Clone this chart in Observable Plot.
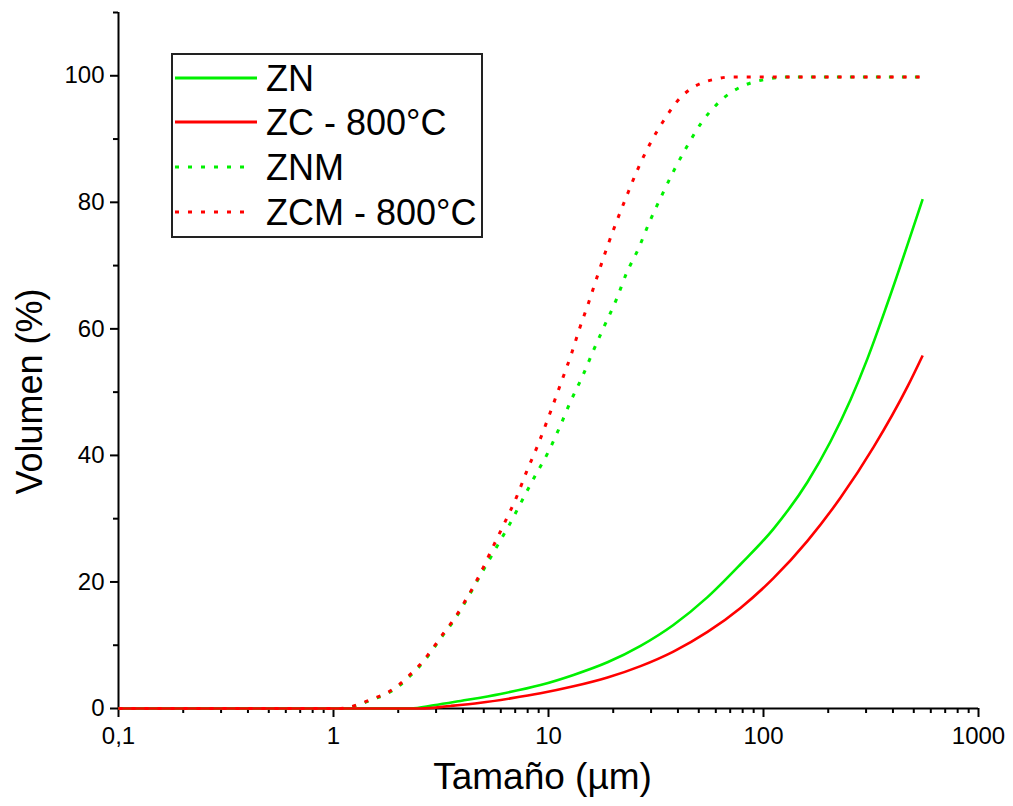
<!DOCTYPE html>
<html>
<head>
<meta charset="utf-8">
<script src="https://cdn.jsdelivr.net/npm/d3@7"></script>
<script src="https://cdn.jsdelivr.net/npm/@observablehq/plot@0.6"></script>
<style>
  html, body { margin: 0; padding: 0; background: #fff; }
  #wrap { position: relative; width: 1013px; height: 806px; }
  #legend { position: absolute; left: 0; top: 0; }
</style>
</head>
<body>
<div id="wrap"></div>
<script>
// ---- data ----
const seriesNames = ["ZN", "ZC - 800°C", "ZNM", "ZCM - 800°C"];
const seriesColors = ["#00f000", "#ff0000", "#00f000", "#ff0000"];
const seriesDotted = [false, false, true, true];

const sizeZN = [0.1, 2.28, 2.92, 3.9, 5.98, 9.18, 13.07, 18.81, 26.8, 38.1, 54.9, 78.2, 111.3, 160.2, 205, 254, 304.5, 377, 550];
const volZN  = [0,   0,    0.5,  1.2, 2.3,  3.7,  5.3,   7.3,   9.9,  13.2, 17.6, 22.8, 28.4,  35.8,  42.2, 48.8, 55.3, 64.0, 80.5];

const sizeZC = [0.1, 2.54, 3.5, 4.83, 6.66, 9.18, 13.07, 18.81, 26.8, 38.1, 54.9, 78.2, 111.3, 160.2, 228, 325, 468, 550];
const volZC  = [0,   0,    0.4, 0.9,  1.6,  2.4,  3.5,   4.9,   6.7,  9.0,  12.1, 15.9, 20.6,  26.5,  33.3, 41.3, 50.9, 55.8];

const sizeZNM = [0.1, 1.08, 1.34, 1.54, 1.76, 1.99, 2.23, 2.49, 2.74, 2.98, 3.25, 3.58, 3.86, 4.16, 4.48, 4.83, 5.26, 5.73, 6.59, 7.49, 8.61, 10.0, 11.25, 12.66, 14.39, 16.19, 18.22, 20.72, 23.06, 26.22, 29.5, 33.54, 38.14, 43.85, 51.5, 62.4, 79.0, 89.8, 105.5, 123.9, 550];
const volZNM  = [0,   0,    0.7,  1.5,  2.3,  3.4,  4.9,  6.5,  8.2,  9.9,  11.7, 13.6, 15.3, 17.2, 19.1, 21.1, 23.3, 25.5, 29.1, 32.7, 36.6, 40.6, 44.4,  48.5,  52.5,  56.6,  60.5,  64.7,  68.8,  72.7,  76.9, 81.0,  84.9,  88.7,  92.6, 95.9, 98.3, 99.0, 99.5,  99.8,  99.8];

const sizeZCM = [0.1, 1.08, 1.34, 1.54, 1.76, 1.99, 2.23, 2.49, 2.74, 2.98, 3.25, 3.58, 3.86, 4.16, 4.48, 4.83, 5.49, 6.24, 7.10, 7.90, 8.89, 9.89, 11.5, 12.8, 13.9, 15.35, 16.9, 18.6, 20.7, 23.1, 25.9, 29.5, 34.3, 40.7, 45.3, 52.0, 60.4, 69.5, 550];
const volZCM  = [0,   0,    0.8,  1.6,  2.4,  3.6,  5.1,  6.7,  8.4,  10.1, 11.9, 13.8, 15.5, 17.4, 19.3, 21.4, 25.4, 29.3, 33.4, 37.4, 41.5, 45.6, 51.7, 56.1, 59.9, 64.1,  68.4, 72.6, 76.9, 81.0, 85.1, 89.1, 92.9, 96.4, 97.8, 98.9, 99.5, 99.8, 99.8];

const xTicks = [0.1, 1, 10, 100, 1000];
const xTickLabels = ["0,1", "1", "10", "100", "1000"];
const xMinorTicks = [0.2,0.3,0.4,0.5,0.6,0.7,0.8,0.9, 2,3,4,5,6,7,8,9, 20,30,40,50,60,70,80,90, 200,300,400,500,600,700,800,900];
const yTicks = [0, 20, 40, 60, 80, 100];
const yMinorTicks = [10, 30, 50, 70, 90, 110];
const xTitle = "Tamaño (µm)";
const yTitle = "Volumen (%)";

// ---- build table ----
const sizes = [sizeZN, sizeZC, sizeZNM, sizeZCM];
const vols = [volZN, volZC, volZNM, volZCM];
const drawOrder = [0, 2, 1, 3];
const FONT = "'Liberation Sans', Arial, sans-serif";

const lineMarks = drawOrder.map(k => {
  const rows = sizes[k].map((s, i) => ({size: s, vol: vols[k][i]}));
  return Plot.line(rows, {
    x: "size", y: "vol",
    stroke: seriesColors[k],
    strokeWidth: seriesDotted[k] ? 3 : 2.6,
    strokeDasharray: seriesDotted[k] ? "4,9" : null,
    strokeLinecap: "butt",
    curve: "monotone-x"
  });
});

const chart = Plot.plot({
  width: 1013,
  height: 806,
  marginLeft: 118,
  marginRight: 35,
  marginTop: 12,
  marginBottom: 98,
  style: {fontFamily: FONT, background: "#fff", color: "#000"},
  x: {type: "log", domain: [0.1, 1000]},
  y: {domain: [0, 110]},
  marks: [
    Plot.axisY(yTicks, {tickSize: 8, tickPadding: 6, fontSize: 24, strokeWidth: 2, label: null, tickFormat: d => String(d)}),
    Plot.axisY(yMinorTicks, {tickSize: 5, strokeWidth: 2, label: null, tickFormat: () => ""}),
    Plot.axisX(xTicks, {tickSize: 9, tickPadding: 9, fontSize: 24, strokeWidth: 2, label: null,
      tickFormat: d => xTickLabels[xTicks.indexOf(d)]}),
    Plot.axisX(xMinorTicks, {tickSize: 5, strokeWidth: 2, label: null, tickFormat: () => ""}),
    Plot.ruleX([0.1], {y1: 0, y2: 110, stroke: "#000", strokeWidth: 2}),
    Plot.ruleY([0], {stroke: "#000", strokeWidth: 2}),
    ...lineMarks,
    Plot.text([xTitle], {frameAnchor: "bottom", textAnchor: "middle", dx: -6, dy: 80, fontSize: 37, fill: "#000"}),
    Plot.text([yTitle], {frameAnchor: "left", textAnchor: "middle", lineAnchor: "middle", rotate: -90, dx: -88, dy: 31, fontSize: 36, fill: "#000"})
  ]
});

const wrap = document.getElementById("wrap");
wrap.appendChild(chart);

// ---- legend overlay ----
const lg = d3.create("svg").attr("id", "legend").attr("width", 1013).attr("height", 806);
lg.append("rect").attr("x", 172).attr("y", 54).attr("width", 310).attr("height", 183)
  .attr("fill", "#fff").attr("stroke", "#222").attr("stroke-width", 2);
const rowY = [78, 122, 167, 212];
seriesNames.forEach((name, i) => {
  lg.append("line")
    .attr("x1", 175).attr("x2", seriesDotted[i] ? 250 : 257)
    .attr("y1", rowY[i]).attr("y2", rowY[i])
    .attr("stroke", seriesColors[i])
    .attr("stroke-width", 3)
    .attr("stroke-dasharray", seriesDotted[i] ? "4,9" : null);
  lg.append("text")
    .attr("x", 266).attr("y", rowY[i] + 12.5)
    .attr("font-family", FONT).attr("font-size", 36).attr("fill", "#000")
    .text(name);
});
wrap.appendChild(lg.node());
</script>
</body>
</html>
